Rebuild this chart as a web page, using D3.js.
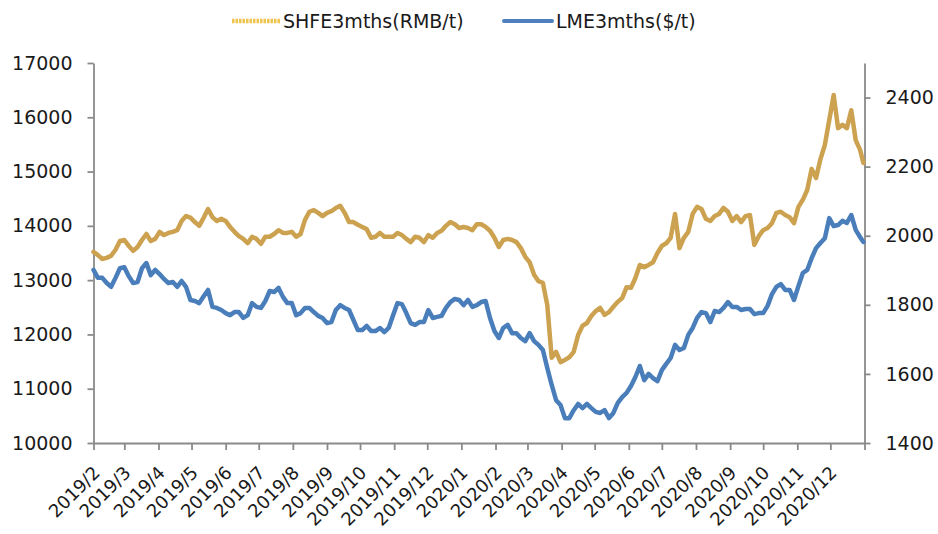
<!DOCTYPE html>
<html><head><meta charset="utf-8">
<script src="https://cdn.jsdelivr.net/npm/d3@7"></script>
<style>body{margin:0;background:#fff}</style>
</head><body><svg id="c" width="938" height="534"></svg>
<script>
const dates = [
"2019-02-01","2019-02-05","2019-02-09","2019-02-13","2019-02-17","2019-02-21","2019-02-25",
"2019-03-01","2019-03-05","2019-03-09","2019-03-13","2019-03-17","2019-03-21","2019-03-25","2019-03-29",
"2019-04-02","2019-04-06","2019-04-10","2019-04-14","2019-04-18","2019-04-22","2019-04-26","2019-04-30",
"2019-05-04","2019-05-08","2019-05-12","2019-05-16","2019-05-20","2019-05-24","2019-05-28",
"2019-06-01","2019-06-05","2019-06-09","2019-06-13","2019-06-17","2019-06-21","2019-06-25","2019-06-29",
"2019-07-03","2019-07-07","2019-07-11","2019-07-15","2019-07-19","2019-07-23","2019-07-27","2019-07-31",
"2019-08-04","2019-08-08","2019-08-12","2019-08-16","2019-08-20","2019-08-24","2019-08-28",
"2019-09-01","2019-09-05","2019-09-09","2019-09-13","2019-09-17","2019-09-21","2019-09-25","2019-09-29",
"2019-10-03","2019-10-07","2019-10-11","2019-10-15","2019-10-19","2019-10-23","2019-10-27","2019-10-31",
"2019-11-04","2019-11-08","2019-11-12","2019-11-16","2019-11-20","2019-11-24","2019-11-28",
"2019-12-02","2019-12-06","2019-12-10","2019-12-14","2019-12-18","2019-12-22","2019-12-26","2019-12-30",
"2020-01-03","2020-01-07","2020-01-11","2020-01-15","2020-01-19","2020-01-23","2020-01-27","2020-01-31",
"2020-02-04","2020-02-08","2020-02-12","2020-02-16","2020-02-20","2020-02-24","2020-02-28",
"2020-03-03","2020-03-07","2020-03-11","2020-03-15","2020-03-19","2020-03-23","2020-03-27","2020-03-31",
"2020-04-04","2020-04-08","2020-04-12","2020-04-16","2020-04-20","2020-04-24","2020-04-28",
"2020-05-02","2020-05-06","2020-05-10","2020-05-14","2020-05-18","2020-05-22","2020-05-26","2020-05-30",
"2020-06-03","2020-06-07","2020-06-11","2020-06-15","2020-06-19","2020-06-23","2020-06-27",
"2020-07-01","2020-07-05","2020-07-09","2020-07-13","2020-07-17","2020-07-21","2020-07-25","2020-07-29",
"2020-08-02","2020-08-06","2020-08-10","2020-08-14","2020-08-18","2020-08-22","2020-08-26","2020-08-30",
"2020-09-03","2020-09-07","2020-09-11","2020-09-15","2020-09-19","2020-09-23","2020-09-27",
"2020-10-01","2020-10-05","2020-10-09","2020-10-13","2020-10-17","2020-10-21","2020-10-25","2020-10-29",
"2020-11-02","2020-11-06","2020-11-10","2020-11-14","2020-11-18","2020-11-22","2020-11-26","2020-11-30",
"2020-12-04","2020-12-08","2020-12-12","2020-12-16","2020-12-20","2020-12-24","2020-12-28","2020-12-31"];

const shfe = [
13520,13460,13390,13410,13450,13560,13720,
13740,13630,13540,13610,13740,13850,13720,13760,
13890,13830,13870,13890,13920,14090,14180,14150,
14070,14000,14150,14310,14160,14090,14130,
14090,13980,13890,13810,13760,13680,13800,13760,
13670,13800,13800,13850,13920,13870,13870,13890,
13800,13850,14110,14260,14290,14240,14180,
14240,14270,14330,14370,14240,14070,14070,14020,
13980,13940,13780,13800,13870,13800,13800,13800,
13870,13830,13760,13700,13800,13780,13700,
13830,13780,13870,13910,14000,14070,14030,13960,
13980,13960,13920,14030,14030,13980,13910,13780,
13610,13740,13760,13740,13700,13590,13430,
13330,13100,12980,12950,12540,11570,11680,11490,
11530,11580,11680,11990,12160,12210,12340,
12430,12490,12360,12410,12510,12600,12670,12870,
12860,13040,13280,13240,13280,13330,13500,
13630,13680,13780,14220,13590,13780,13890,14220,
14350,14310,14130,14090,14180,14220,14330,14260,
14090,14180,14070,14180,14200,13650,13810,
13920,13960,14050,14240,14260,14200,14160,14050,
14350,14480,14660,15050,14880,15230,15490,15950,
16410,15800,15860,15800,16130,15580,15400,15160];

const lme = [
1901,1878,1878,1863,1852,1878,1906,
1909,1883,1863,1866,1906,1921,1886,1901,
1889,1875,1863,1866,1852,1869,1852,1814,
1811,1805,1825,1843,1794,1791,1785,
1776,1770,1779,1779,1762,1770,1805,1794,
1791,1811,1840,1837,1849,1823,1805,1805,
1770,1776,1791,1791,1779,1768,1762,
1747,1750,1785,1799,1791,1785,1756,1727,
1727,1739,1724,1724,1733,1721,1733,1770,
1805,1802,1776,1747,1742,1750,1750,
1785,1762,1765,1768,1791,1808,1817,1814,
1799,1814,1794,1799,1808,1811,1762,1724,
1704,1733,1742,1718,1718,1704,1695,
1718,1695,1684,1669,1617,1568,1524,1510,
1472,1472,1495,1513,1501,1513,1501,
1490,1487,1495,1472,1487,1516,1533,1545,
1565,1591,1623,1582,1600,1588,1579,
1611,1629,1646,1684,1669,1675,1713,1733,
1762,1779,1776,1750,1782,1779,1791,1808,
1794,1794,1785,1788,1788,1773,1776,
1776,1797,1831,1852,1860,1843,1843,1814,
1854,1892,1901,1935,1964,1979,1993,2051,
2028,2031,2043,2037,2060,2017,1996,1982];

const monthLabels = ["2019/2","2019/3","2019/4","2019/5","2019/6","2019/7","2019/8","2019/9","2019/10","2019/11","2019/12",
"2020/1","2020/2","2020/3","2020/4","2020/5","2020/6","2020/7","2020/8","2020/9","2020/10","2020/11","2020/12","2021/1"];
const leftTicks = [10000,11000,12000,13000,14000,15000,16000,17000];
const rightTicks = [1400,1600,1800,2000,2200,2400];
const seriesNames = ["SHFE3mths(RMB/t)","LME3mths($/t)"];
const colors = {shfe:"#cca250", lme:"#4a7ebb", axis:"#8a8a8a"};

const FONT = "'DejaVu Sans', sans-serif";
const svg = d3.select("#c");
const parse = d3.timeParse("%Y-%m-%d");
const parseM = d3.timeParse("%Y/%m");
const tickDates = monthLabels.map(parseM);

const x = d3.scaleTime().domain([tickDates[0], tickDates[tickDates.length-1]]).range([93.5, 864.5]);
const yL = d3.scaleLinear().domain([10000,17000]).range([443,63]);
const yR = d3.scaleLinear().domain([1400,2500]).range([443,63]);

function styleAxis(g){
  g.attr("font-family", FONT).attr("font-size", 19);
  g.select(".domain").attr("stroke", colors.axis).attr("stroke-width", 1.8);
  g.selectAll(".tick line").attr("stroke", colors.axis).attr("stroke-width", 1.8);
  g.selectAll(".tick text").attr("fill", "#1a1a1a");
}

// bottom axis
const gx = svg.append("g").attr("transform","translate(0,443)")
  .call(d3.axisBottom(x).tickValues(tickDates).tickSize(7).tickSizeOuter(0)
    .tickFormat((d,i)=> i < monthLabels.length-1 ? monthLabels[i] : ""));
styleAxis(gx);
gx.attr("font-size", 18);
gx.selectAll(".tick text").attr("x",0).attr("y",0).attr("dy",0)
  .attr("text-anchor","end").attr("transform","translate(7,31) rotate(-45)");

// left axis
const gl = svg.append("g").attr("transform","translate(93.5,0)")
  .call(d3.axisLeft(yL).tickValues(leftTicks).tickSize(6).tickSizeOuter(0).tickPadding(15).tickFormat(d3.format("d")));
styleAxis(gl);

// right axis
const gr = svg.append("g").attr("transform","translate(864.5,0)")
  .call(d3.axisRight(yR).tickValues(rightTicks).tickSize(6).tickSizeOuter(0).tickPadding(15).tickFormat(d3.format("d")));
styleAxis(gr);

const rows = dates.map((d,i)=>({date:parse(d), s:shfe[i], l:lme[i]}));
const lineS = d3.line().x(d=>x(d.date)).y(d=>yL(d.s));
const lineL = d3.line().x(d=>x(d.date)).y(d=>yR(d.l));

svg.append("path").datum(rows).attr("d", lineS).attr("fill","none")
  .attr("stroke", colors.shfe).attr("stroke-width", 4.5).attr("stroke-linejoin","round").attr("stroke-linecap","round");
svg.append("path").datum(rows).attr("d", lineL).attr("fill","none")
  .attr("stroke", colors.lme).attr("stroke-width", 4.5).attr("stroke-linejoin","round").attr("stroke-linecap","round");

// legend
const leg = svg.append("g").attr("font-family", FONT).attr("font-size", 19);
leg.append("line").attr("x1",232).attr("x2",280).attr("y1",21).attr("y2",21)
  .attr("stroke","#f0c24e").attr("stroke-width",4.5).attr("stroke-dasharray","2.5,1");
leg.append("text").attr("x",283).attr("y",28).attr("fill","#1a1a1a").text(seriesNames[0]);
leg.append("line").attr("x1",504).attr("x2",552).attr("y1",21).attr("y2",21)
  .attr("stroke","#4e80c0").attr("stroke-width",4).attr("stroke-linecap","round");
leg.append("text").attr("x",556).attr("y",28).attr("fill","#1a1a1a").text(seriesNames[1]);
</script></body></html>
